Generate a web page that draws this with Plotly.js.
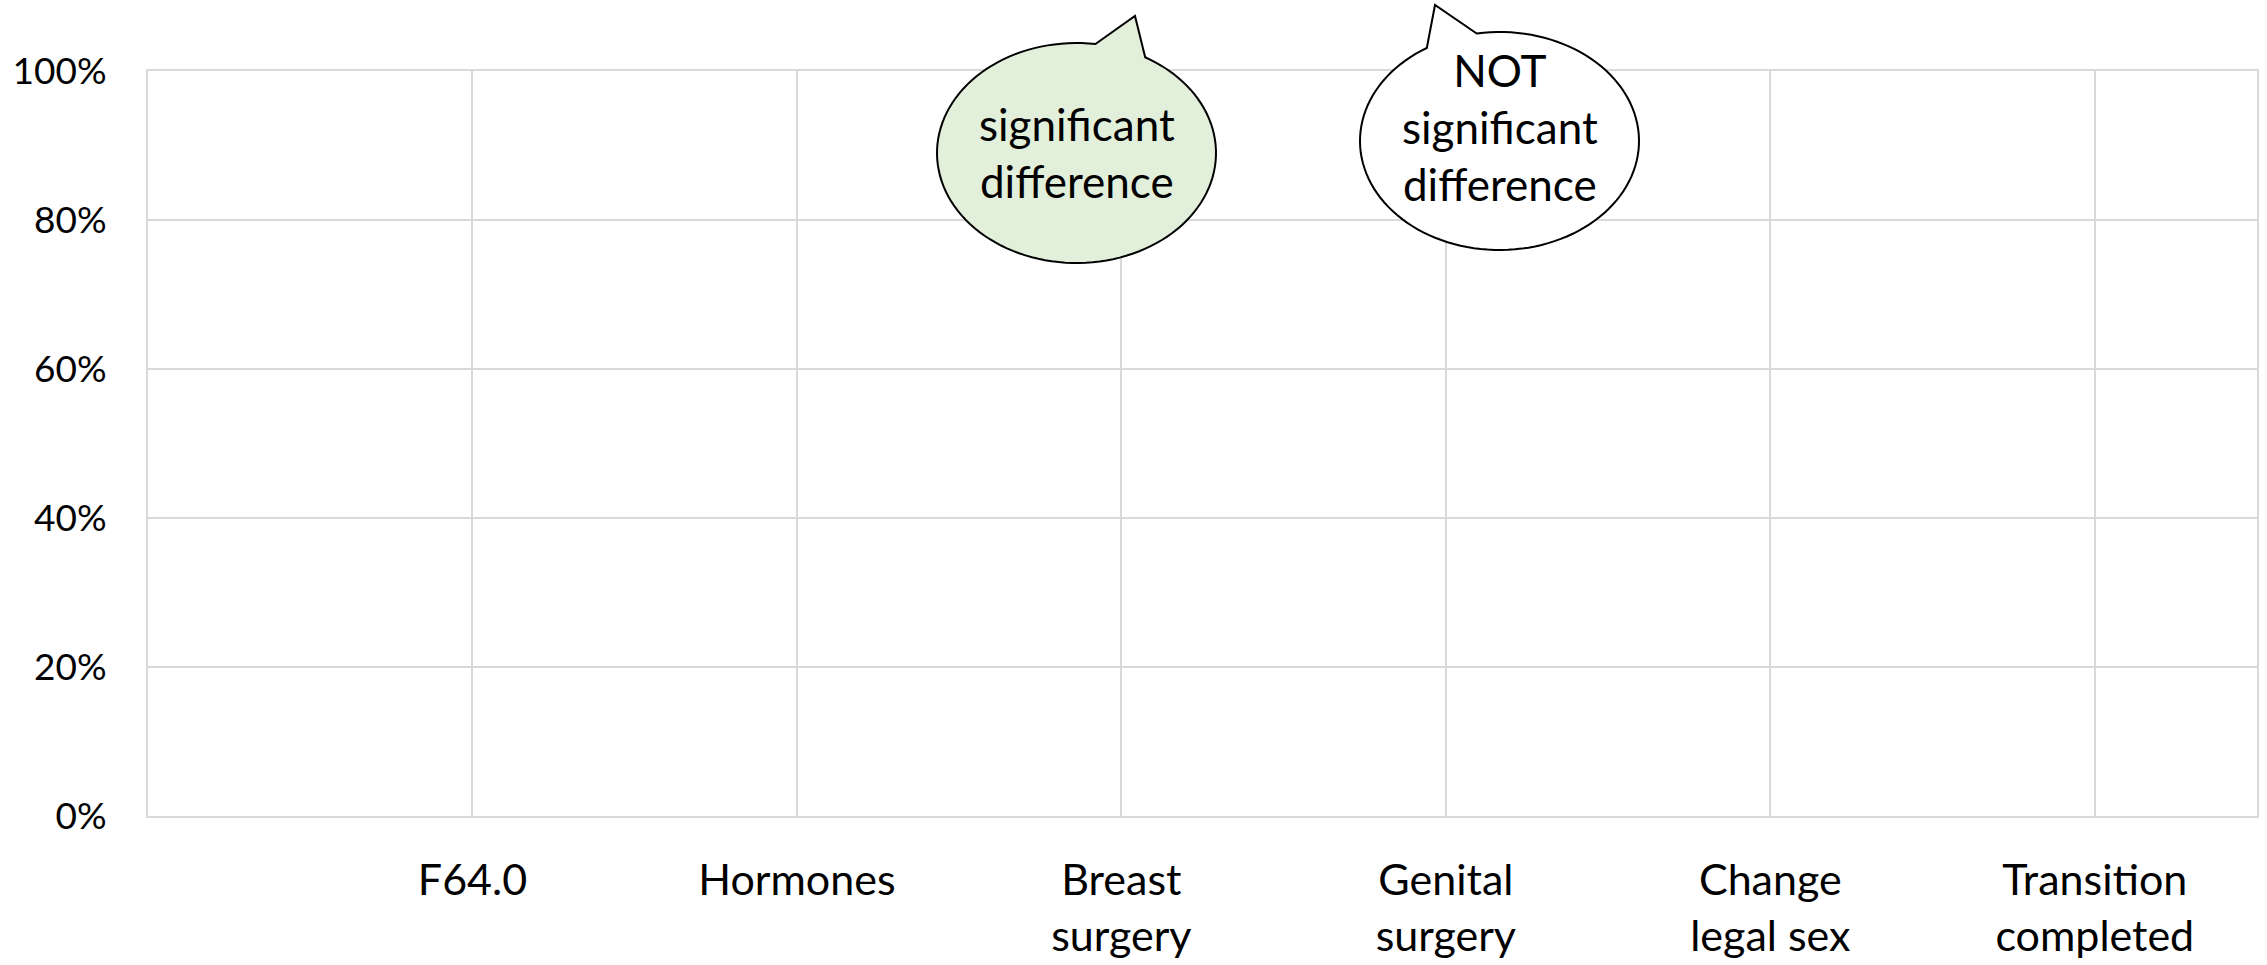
<!DOCTYPE html>
<html>
<head>
<meta charset="utf-8">
<script src="https://cdn.plot.ly/plotly-3.0.1.min.js"></script>
<style>html,body{margin:0;padding:0;background:#fff;}#chart{width:2267px;height:965px;}</style>
</head>
<body>
<div id="chart"></div>
<script>
// ---- data ----
var categories = ["F64.0", "Hormones", "Breast<br>surgery", "Genital<br>surgery", "Change<br>legal sex", "Transition<br>completed"];
var seriesValues = [null, null, null, null, null, null];   // the chart shows no bars
var yTickVals = [0, 0.2, 0.4, 0.6, 0.8, 1.0];
var yTickText = ["0%", "20%", "40%", "60%", "80%", "100%"];
var bubbleTexts = ["significant<br>difference", "NOT<br>significant<br>difference"];

// ---- layout geometry ----
var W = 2267, H = 965;
var M = {l: 148, r: 10, t: 71, b: 149};
var PW = W - M.l - M.r, PH = H - M.t - M.b;
function px(x) { return (x - M.l) / PW; }
function py(y) { return (H - M.b - y) / PH; }

// speech bubble path (ellipse + tail), in pixel geometry converted to paper coords
function bubblePath(cx, cy, rx, ry, tStartDeg, tEndDeg, tipX, tipY) {
  var n = 120, s = "";
  var a0 = tStartDeg * Math.PI / 180, a1 = tEndDeg * Math.PI / 180;
  for (var i = 0; i <= n; i++) {
    var t = a0 + (a1 - a0) * i / n;
    var x = cx + rx * Math.cos(t), y = cy + ry * Math.sin(t);
    s += (i === 0 ? "M" : "L") + px(x).toFixed(5) + "," + py(y).toFixed(5);
  }
  s += "L" + px(tipX).toFixed(5) + "," + py(tipY).toFixed(5) + "Z";
  return s;
}

var shapes = [
  {type: "path", xref: "paper", yref: "paper", layer: "above",
   path: bubblePath(1076.5, 153, 139.5, 110, -60.5, 277.8, 1135, 16),
   fillcolor: "#E2EFDA", line: {color: "#000000", width: 2}},
  {type: "path", xref: "paper", yref: "paper", layer: "above",
   path: bubblePath(1499.5, 141, 139.5, 109, -99.4, 238.6, 1435, 5),
   fillcolor: "#FFFFFF", line: {color: "#000000", width: 2}}
];

var annotations = [
  {xref: "paper", yref: "paper", x: px(1076.5), y: py(152), xanchor: "center", yanchor: "middle",
   text: bubbleTexts[0], showarrow: false, font: {family: "Lato", size: 44, color: "#000"}},
  {xref: "paper", yref: "paper", x: px(1499.5), y: py(127), xanchor: "center", yanchor: "middle",
   text: bubbleTexts[1], showarrow: false, font: {family: "Lato", size: 44, color: "#000"}}
];

var traces = [{
  type: "bar", x: categories, y: seriesValues, hoverinfo: "skip", showlegend: false
}];

var layout = {
  width: W, height: H,
  margin: M,
  paper_bgcolor: "#ffffff", plot_bgcolor: "#ffffff",
  font: {family: "Lato", color: "#000000"},
  showlegend: false,
  xaxis: {
    type: "category", range: [-1, 5.5],
    showgrid: true, gridcolor: "#D9D9D9", gridwidth: 2,
    showline: true, linecolor: "#D9D9D9", linewidth: 2, mirror: true,
    ticks: "", tickfont: {family: "Lato", size: 43, color: "#000"},
    ticklabelstandoff: 25, fixedrange: true
  },
  yaxis: {
    range: [0, 1], tickvals: yTickVals, ticktext: yTickText,
    showgrid: true, gridcolor: "#D9D9D9", gridwidth: 2, zeroline: false,
    showline: true, linecolor: "#D9D9D9", linewidth: 2, mirror: true,
    ticks: "", tickfont: {family: "Lato", size: 37, color: "#000"},
    ticklabelstandoff: 32, fixedrange: true
  },
  shapes: shapes,
  annotations: annotations
};

Plotly.newPlot("chart", traces, layout, {displayModeBar: false, staticPlot: true});
</script>
</body>
</html>
